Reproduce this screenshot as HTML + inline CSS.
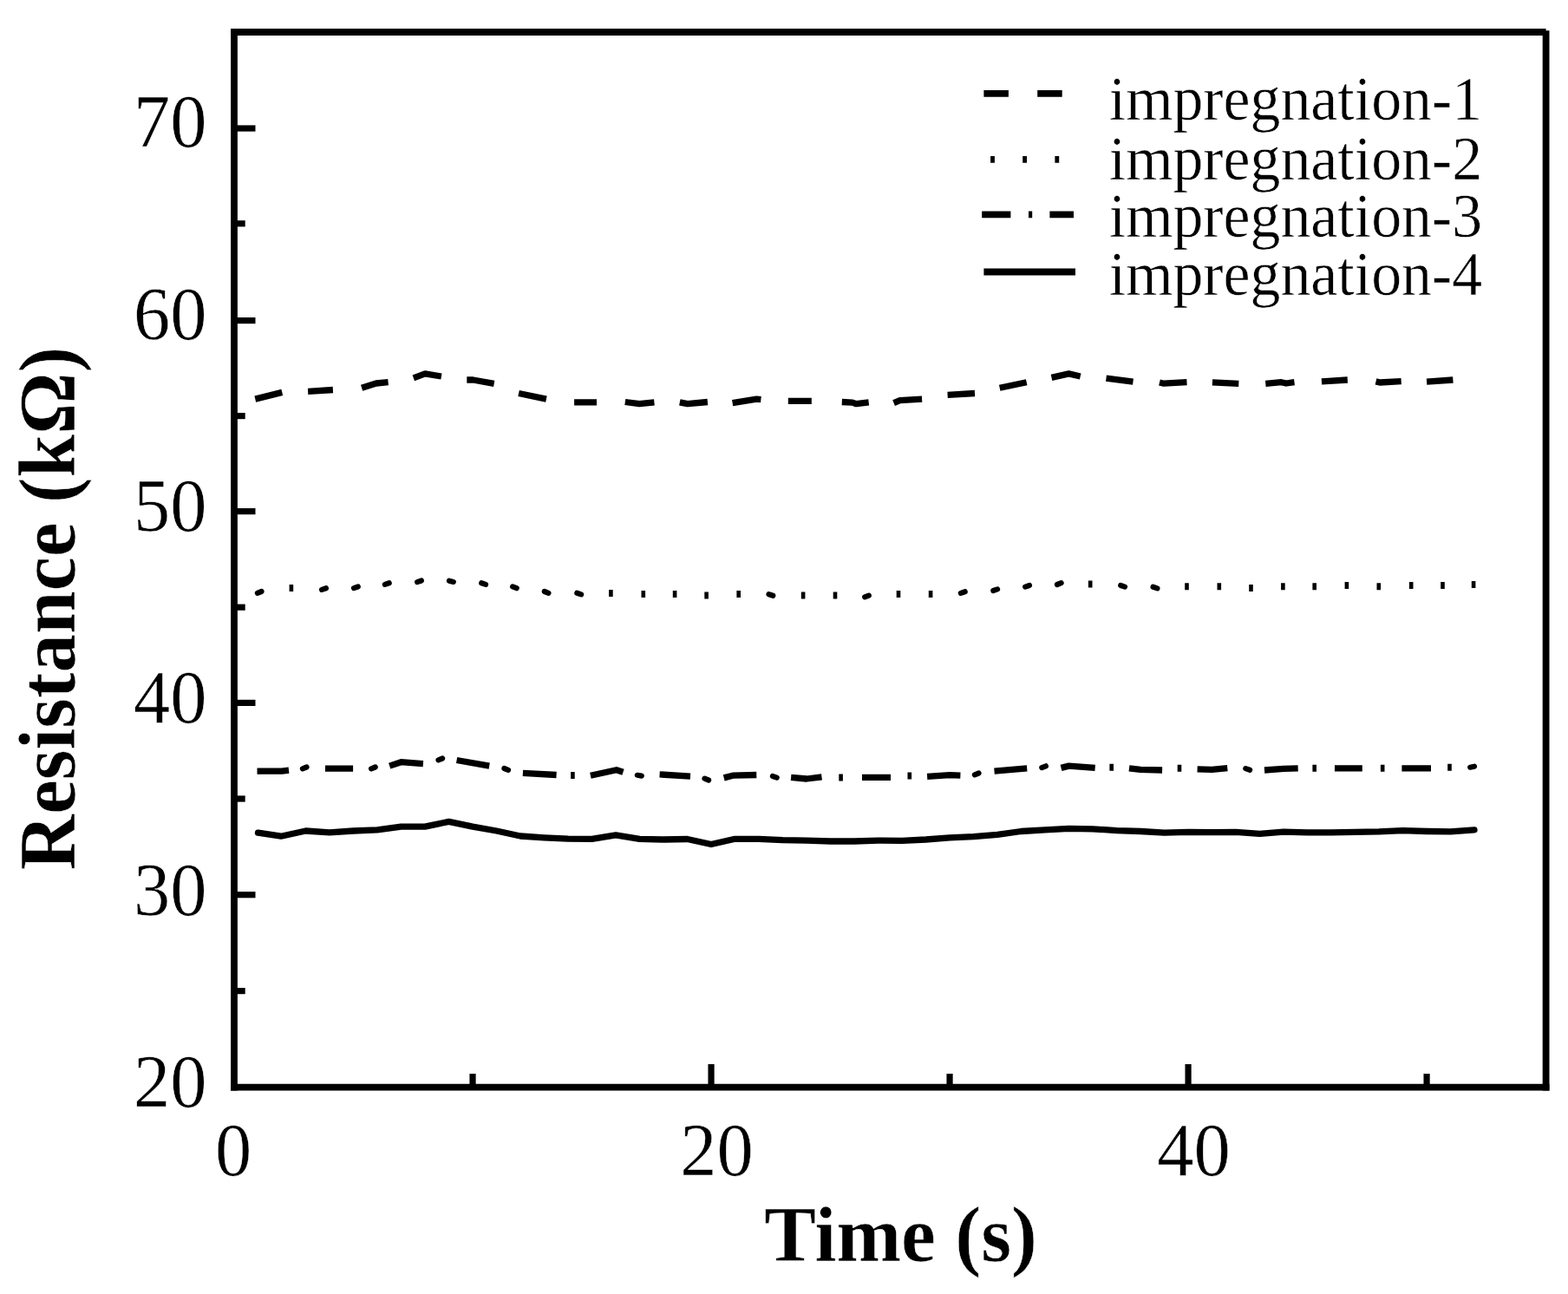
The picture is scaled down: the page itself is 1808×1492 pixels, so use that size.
<!DOCTYPE html>
<html lang="en"><head><meta charset="utf-8"><title>Resistance vs Time</title>
<style>
html,body{margin:0;padding:0;background:#fff;}
body{width:1808px;height:1492px;}
svg{display:block;}
text{font-family:"Liberation Serif","DejaVu Serif",serif;fill:#000;stroke:#fff;stroke-width:0.5px;stroke-linejoin:round;}
.tk{font-size:84.5px;}
.lg{font-size:69.8px;}
.tt{font-size:90px;font-weight:bold;}
.ax{stroke:#000;stroke-width:7.8;fill:none;stroke-linecap:butt;}
.cv{stroke:#000;stroke-width:7.3;fill:none;stroke-linejoin:round;stroke-linecap:butt;}
</style></head><body>
<svg width="1808" height="1492" viewBox="0 0 1808 1492">
<rect x="0" y="0" width="1808" height="1492" fill="#fff"/>
<g>
<g class="ax">
<path d="M270 33.1 V1257.5"/>
<path d="M266.1 1253.6 H1786.5"/>
<path d="M266.1 37 H1782.6"/>
<path d="M1782.6 35.2 V1257.5"/>
</g>
<g class="ax" style="stroke-width:7.2">
<path d="M270 1031.70 H294.5"/>
<path d="M270 810.40 H294.5"/>
<path d="M270 589.60 H294.5"/>
<path d="M270 369.60 H294.5"/>
<path d="M270 148.00 H294.5"/>
<path d="M270 1142.60 H282.7"/>
<path d="M270 921.00 H282.7"/>
<path d="M270 700.20 H282.7"/>
<path d="M270 479.60 H282.7"/>
<path d="M270 257.80 H282.7"/>
<path d="M820.04 1253.6 V1227"/>
<path d="M1370.07 1253.6 V1227"/>
<path d="M545.02 1253.6 V1238"/>
<path d="M1095.05 1253.6 V1238"/>
<path d="M1645.09 1253.6 V1238"/>
</g>
<text class="tk" transform="translate(238.60 1276.10) scale(1 1.015)" text-anchor="end">20</text>
<text class="tk" transform="translate(238.60 1054.76) scale(1 1.015)" text-anchor="end">30</text>
<text class="tk" transform="translate(238.60 833.42) scale(1 1.015)" text-anchor="end">40</text>
<text class="tk" transform="translate(238.60 612.08) scale(1 1.015)" text-anchor="end">50</text>
<text class="tk" transform="translate(238.60 390.74) scale(1 1.015)" text-anchor="end">60</text>
<text class="tk" transform="translate(238.60 169.40) scale(1 1.015)" text-anchor="end">70</text>
<text class="tk" transform="translate(269.00 1355.30) scale(1 1.015)" text-anchor="middle">0</text>
<text class="tk" transform="translate(826.40 1355.30) scale(1 1.015)" text-anchor="middle">20</text>
<text class="tk" transform="translate(1376.40 1355.30) scale(1 1.015)" text-anchor="middle">40</text>
<text class="tt" style="font-size:89.7px" transform="translate(1038.60 1453.90) scale(1 1.018)" text-anchor="middle">Time (s)</text>
<text class="tt" style="font-size:89.1px" transform="translate(85.80 701.50) rotate(-90) scale(1 1.047)" text-anchor="middle">Resistance (kΩ)</text>
<g class="ax">
<path d="M1134.4 107.9 h28.5 M1196.2 107.9 h28.5"/>
<path d="M1142.1 183.8 h4.8 M1179.2 183.8 h4.8 M1216.4 183.8 h4.8"/>
<path d="M1132.2 247.4 H1165.4 M1186 247.4 H1190.2 M1210.4 247.4 H1238"/>
<path d="M1134.4 313.5 H1240"/>
</g>
<text class="lg" transform="translate(1278.80 137.80) scale(1 1.03)" text-anchor="start">impregnation-1</text>
<text class="lg" transform="translate(1278.80 207.20) scale(1 1.03)" text-anchor="start">impregnation-2</text>
<text class="lg" transform="translate(1278.80 273.20) scale(1 1.03)" text-anchor="start">impregnation-3</text>
<text class="lg" transform="translate(1278.80 339.60) scale(1 1.03)" text-anchor="start">impregnation-4</text>
<g class="cv" transform="translate(0 0.4)">
<path d="M294.3 459.7 L325.3 452.0 M355.1 450.9 L383.9 449.1 M417.1 446.9 L433.7 441.6 L447.6 440.3 M476.8 435.4 L490.1 430.5 L508.9 433.6 M538.3 437.6 L545.4 437.6 L569.7 442.0 M598.1 453.1 L629.9 459.7 M662.1 463.5 L688.0 463.5 M720.8 463.1 L737.3 465.3 L754.4 463.5 M783.8 463.5 L792.7 465.3 L815.9 463.1 M844.6 464.2 L872.3 459.7 L877.4 460.2 M908.8 461.9 L935.8 461.9 M970.8 463.1 L982.9 463.7 L987.4 465.3 L1001.7 463.5 M1030.6 464.2 L1037.7 461.3 L1063.1 459.7 M1092.6 454.9 L1124.0 453.1 M1152.7 446.9 L1183.7 440.3 M1212.5 435.0 L1232.4 430.5 L1245.7 433.6 M1275.5 435.8 L1306.5 439.8 M1337.0 440.6 L1342.0 441.8 L1368.5 440.3 M1397.9 440.5 L1428.3 442.0 M1459.3 442.0 L1477.4 440.3 L1483.0 441.6 L1492.5 440.3 M1523.9 439.4 L1553.8 437.6 M1586.5 439.5 L1591.0 440.6 L1615.7 439.2 M1645.1 439.8 L1675.4 437.6"/>
<path d="M333.6 677.6 L338.2 677.6 M702.1 683.6 L706.7 683.6 M739.5 684.7 L744.1 684.7 M775.8 684.7 L780.4 684.7 M812.3 686.0 L816.9 686.0 M849.4 684.7 L854.0 684.7 M923.8 686.0 L928.4 686.0 M960.7 686.0 L965.3 686.0 M1033.7 684.7 L1038.3 684.7 M1070.8 684.7 L1075.4 684.7 M1254.9 673.2 L1259.5 673.2 M1366.2 675.8 L1370.8 675.8 M1403.5 675.8 L1408.1 675.8 M1440.2 677.6 L1444.8 677.6 M1477.1 675.8 L1481.7 675.8 M1513.4 675.8 L1518.0 675.8 M1550.6 674.7 L1555.2 674.7 M1587.5 675.8 L1592.1 675.8 M1624.9 674.7 L1629.5 674.7 M1661.2 674.7 L1665.8 674.7 M1696.8 673.6 L1701.4 673.6" stroke-width="8"/>
<path d="M296.9 683.4 L301.5 681.6 M371.1 679.5 L375.9 677.9 M408.0 677.7 L412.8 676.1 M443.9 673.5 L448.7 671.9 M481.1 670.7 L485.9 669.1 M518.0 669.3 L522.8 670.5 M555.2 671.9 L560.0 673.5 M591.1 676.0 L595.7 677.8 M627.8 681.6 L632.4 683.4 M665.3 683.4 L670.1 685.0 M886.5 684.8 L891.3 686.4 M997.2 688.0 L1001.8 686.2 M1107.9 683.5 L1112.7 681.9 M1145.3 680.6 L1150.1 679.0 M1182.2 676.2 L1187.0 674.6 M1219.0 673.6 L1223.6 671.8 M1292.2 674.6 L1297.0 676.2 M1329.6 676.4 L1334.4 678.0" stroke-width="6.2" stroke-linecap="round"/>
<path d="M296.5 888.7 L325.0 888.7 L333.0 887.8 M375.0 885.8 L407.1 885.8 M449.2 882.7 L462.4 878.3 L487.9 880.3 M526.6 876.1 L564.2 882.7 M602.9 890.9 L641.6 893.1 M680.9 893.8 L710.8 887.3 L718.5 889.8 M760.6 892.5 L796.0 894.7 M834.7 896.5 L845.0 893.8 L872.3 893.1 M912.1 896.0 L930.0 897.6 L947.5 895.4 M994.0 896.0 L1027.0 896.0 M1069.1 894.9 L1095.0 893.3 L1107.4 893.8 M1146.5 888.7 L1184.2 885.4 M1223.5 885.0 L1232.5 882.7 L1262.7 885.0 M1302.0 885.4 L1315.0 887.0 L1340.1 887.6 M1380.6 886.5 L1397.5 887.0 L1415.3 885.2 M1458.0 887.6 L1480.0 886.0 L1496.7 885.4 M1539.0 885.4 L1570.8 885.4 M1616.4 885.4 L1650.0 885.4"/>
<path d="M658.1 893.5 L662.7 893.5 M967.3 896.0 L971.9 896.0 M1046.5 894.2 L1051.1 894.2 M1279.4 884.3 L1284.0 884.3 M1357.7 885.4 L1362.3 885.4 M1513.4 885.4 L1518.0 885.4 M1591.9 885.4 L1596.5 885.4 M1669.2 884.3 L1673.8 884.3" stroke-width="8"/>
<path d="M348.9 885.9 L353.5 884.1 M428.1 885.9 L432.7 884.1 M505.5 875.9 L510.1 874.1 M581.4 885.6 L586.0 887.4 M734.8 893.4 L739.8 894.2 M812.5 897.3 L817.1 899.1 M890.9 894.6 L895.7 896.2 M1123.9 892.9 L1128.5 891.1 M1201.3 884.7 L1205.9 882.9 M1436.3 885.7 L1441.1 887.3 M1695.2 884.3 L1700.0 883.3" stroke-width="6.2" stroke-linecap="round"/>
<path d="M297.5 959.8 L324.0 963.8 L352.5 957.6 L380.0 959.4 L407.5 957.6 L435.0 956.5 L462.5 952.7 L490.0 952.7 L517.5 947.0 L545.0 952.7 L572.5 957.6 L600.0 963.6 L627.5 965.4 L655.0 966.7 L682.5 966.9 L710.0 962.5 L737.5 966.9 L765.0 967.6 L792.5 967.1 L820.0 973.1 L847.5 966.9 L875.0 966.9 L902.5 968.2 L930.0 968.7 L957.5 969.6 L985.0 969.6 L1012.5 968.7 L1040.0 968.9 L1067.5 967.6 L1095.0 965.4 L1122.5 964.2 L1150.0 962.0 L1177.5 958.1 L1205.0 956.5 L1232.5 955.0 L1260.0 955.4 L1287.5 957.2 L1315.0 958.1 L1342.5 959.8 L1370.0 958.9 L1397.5 959.2 L1425.0 958.9 L1452.5 960.9 L1480.0 958.7 L1507.5 959.4 L1535.0 959.4 L1562.5 958.9 L1590.0 958.5 L1617.5 957.2 L1645.0 958.1 L1672.5 958.5 L1700.0 956.5" stroke-linecap="round"/>
</g>
</g>
</svg>
</body></html>
